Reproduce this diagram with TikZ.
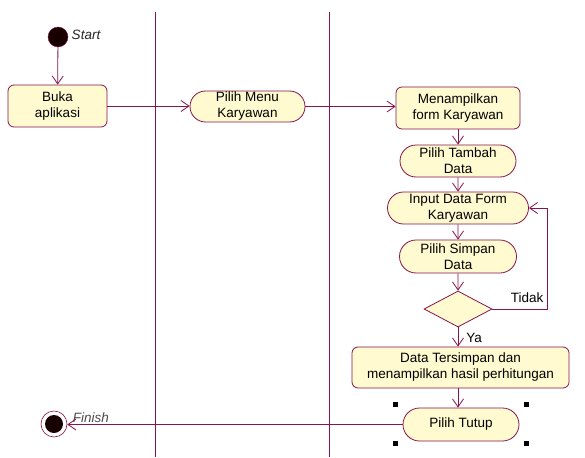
\documentclass[tikz,border=0pt]{standalone}
\usepackage{fontspec}
\setmainfont{Liberation Sans}
\usepackage{tikz}
\usetikzlibrary{arrows.meta,shapes.misc,shapes.geometric}
\definecolor{umlline}{RGB}{135,20,75}
\definecolor{umlfill}{RGB}{255,250,208}

\begin{document}
\begin{tikzpicture}[x=1pt,y=-1pt,
  font=\fontsize{13.5}{16}\selectfont,
  lane/.style={umlline,line width=0.8pt},
  flow/.style={umlline,line width=0.8pt,-{Straight Barb[length=8pt,width=11pt]}},
  box/.style={draw=umlline,fill=umlfill,line width=0.8pt,rounded corners=6pt,
    align=center,inner sep=0pt},
  act/.style={draw=umlline,fill=umlfill,line width=0.8pt,rounded rectangle,
    align=center,inner sep=0pt},
  handle/.style={fill=black,minimum size=5pt,inner sep=0pt}]
\useasboundingbox (0,0) rectangle (585,457);
\fill[white] (0,0) rectangle (585,457);
% swimlanes
\draw[lane] (155,12) -- (155,457);
\draw[lane] (329,12) -- (329,457);
% start and finish
\node[circle,fill=black!90!red,draw=umlline,minimum size=20pt,inner sep=0pt] (start) at (58,37) {};
\node[gray!30!black,font=\fontsize{13.5}{16}\selectfont\itshape] (startlbl) at (86,35) {Start};
\node[circle,draw=umlline,fill=white,line width=0.6pt,minimum size=26pt,inner sep=0pt] (finish) at (54,424) {};
\node[circle,fill=black!90!red,minimum size=18pt,inner sep=0pt] (finishin) at (54,424) {};
\node[gray!60!black,font=\fontsize{13.5}{16}\selectfont\itshape] (finishlbl) at (91,418) {Finish};
% activities
\node[box,minimum width=99pt,minimum height=42pt] (buka) at (57.5,106) {Buka\\aplikasi};
\node[act,minimum width=115pt,minimum height=31pt] (menu) at (247.5,106.5) {Pilih Menu\\Karyawan};
\node[box,minimum width=124pt,minimum height=42pt] (tampil) at (458,108) {Menampilkan\\form Karyawan};
\node[act,minimum width=116pt,minimum height=32pt] (tambah) at (458,161) {Pilih Tambah\\Data};
\node[act,minimum width=141pt,minimum height=32pt] (input) at (458,208) {Input Data Form\\Karyawan};
\node[act,minimum width=117pt,minimum height=33pt] (simpan) at (458,256.5) {Pilih Simpan\\Data};
\node[diamond,draw=umlline,fill=umlfill,line width=0.8pt,aspect=1.9,
  minimum width=68pt,minimum height=36pt,inner sep=0pt] (cek) at (458,309) {};
\node[box,minimum width=217pt,minimum height=41pt] (hasil) at (460.5,367.5) {Data Tersimpan dan\\menampilkan hasil perhitungan};
\node[act,minimum width=116pt,minimum height=33pt] (tutup) at (461,424.5) {Pilih Tutup};
% guard labels
\node (tidak) at (527,298) {Tidak};
\node (ya) at (474,338) {Ya};
% selection handles
\node[handle] (h1) at (395,404) {};
\node[handle] (h2) at (526,404) {};
\node[handle] (h3) at (395,443) {};
\node[handle] (h4) at (526,443) {};
% flows
\draw[flow] (start) -- (buka);
\draw[flow] (buka.east) -- (buka.east -| menu.west);
\draw[flow] (menu.east) -- (menu.east -| tampil.west);
\draw[flow] (tampil) -- (tambah);
\draw[flow] (tambah) -- (input);
\draw[flow] (input) -- (simpan);
\draw[flow] (simpan) -- (cek);
\draw[flow] (cek.south) -- (cek.south |- hasil.north);
\draw[flow] (cek.east) -- ++(55,0) |- (input.east);
\draw[flow] (hasil.south -| cek.south) -- (tutup.north -| cek.south);
\draw[flow] (tutup.west) -- (tutup.west -| finish.east);
\end{tikzpicture}
\end{document}
